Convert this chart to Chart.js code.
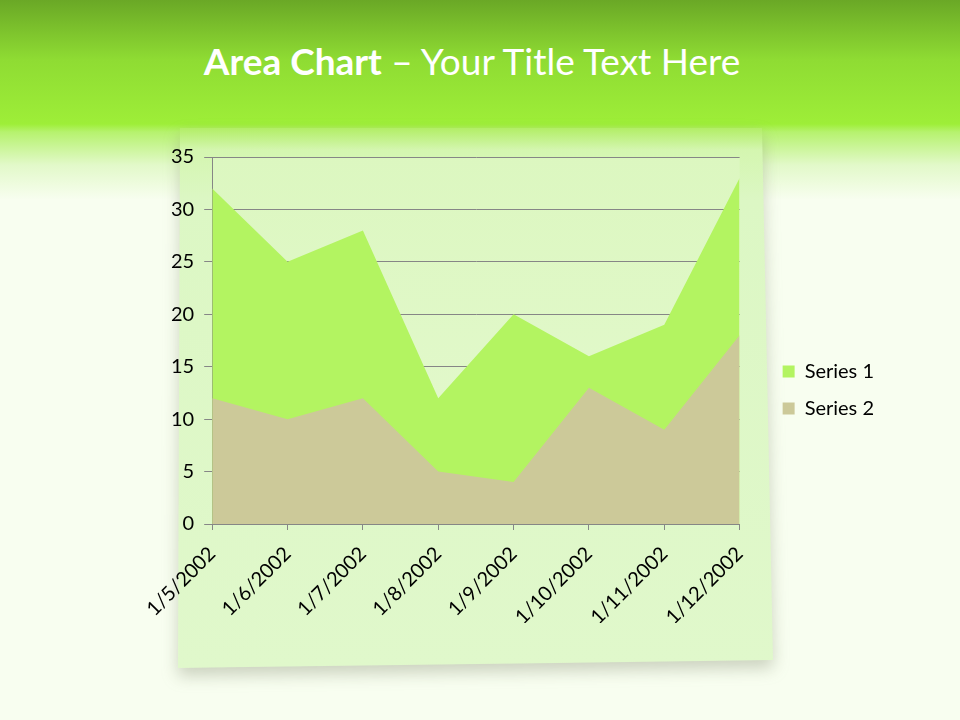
<!DOCTYPE html>
<html>
<head>
<meta charset="utf-8">
<script src="https://cdn.jsdelivr.net/npm/chart.js@4"></script>
<style>
  html, body { margin: 0; padding: 0; }
  body {
    width: 960px; height: 720px; overflow: hidden; position: relative;
    background: linear-gradient(to bottom, #6aa826 0px, #8fdc33 60px, #9eee38 124px, #b6f26e 132px, #e2f9c9 165px, #f8fef0 200px, #f8fef0 720px);
    font-family: Lato, "Open Sans", sans-serif;
  }
  #panelWrap {
    position: absolute; left: 0; top: 0; width: 960px; height: 720px;
    filter: drop-shadow(0px 8px 8px rgba(120, 130, 100, 0.35));
  }
  #panel {
    position: absolute; left: 0; top: 0; width: 960px; height: 720px;
    background: linear-gradient(to bottom, #b2ee66 128px, #d4f6b0 150px, #dcf7c4 200px, #e0f8cb 668px);
    clip-path: polygon(180px 128px, 762px 128px, 773px 660px, 178px 668px);
  }
  #title {
    position: absolute; left: 0; top: 38px; width: 944px; text-align: center;
    color: #ffffff; font-size: 37px; white-space: nowrap;
  }
  #title b { font-weight: 700; }
  #chartBox { position: absolute; left: 0; top: 0; width: 960px; height: 720px; }
</style>
</head>
<body>
<div id="panelWrap"><div id="panel"></div></div>
<div id="title"><b>Area Chart</b> – Your Title Text Here</div>
<div id="chartBox"><canvas id="myChart" width="960" height="720"></canvas></div>
<script>
const categories = ['1/5/2002', '1/6/2002', '1/7/2002', '1/8/2002', '1/9/2002', '1/10/2002', '1/11/2002', '1/12/2002'];
const series1 = [32, 25, 28, 12, 20, 16, 19, 33];
const series2 = [12, 10, 12, 5, 4, 13, 9, 18];
const yTicks = [0, 5, 10, 15, 20, 25, 30, 35];

const FONT = 'Lato, "Open Sans", sans-serif';

// light gradient behind the plot area
const plotBg = {
  id: 'plotBg',
  beforeDraw(chart) {
    const { ctx, chartArea: a } = chart;
    const g = ctx.createLinearGradient(0, a.top, 0, a.bottom);
    g.addColorStop(0, '#dcf7c0');
    g.addColorStop(1, '#e4f9cf');
    ctx.save();
    ctx.fillStyle = g;
    ctx.fillRect(a.left, a.top, a.right - a.left, a.bottom - a.top);
    ctx.restore();
  }
};

const ctx = document.getElementById('myChart').getContext('2d');
const myChart = new Chart(ctx, {
  type: 'line',
  data: {
    labels: categories,
    datasets: [{
      label: 'Series 1',
      data: series1,
      backgroundColor: '#b3f461',
      borderWidth: 0,
      pointRadius: 0,
      fill: 'origin',
      order: 1
    }, {
      label: 'Series 2',
      data: series2,
      backgroundColor: '#ccc999',
      borderWidth: 0,
      pointRadius: 0,
      fill: 'origin',
      order: 0
    }]
  },
  options: {
    responsive: false,
    animation: false,
    layout: {
      padding: { left: 161, right: 76, top: 157, bottom: 97 }
    },
    plugins: {
      title: { display: false },
      tooltip: { enabled: false },
      legend: {
        position: 'right',
        align: 'center',
        labels: {
          boxWidth: 12,
          boxHeight: 12,
          padding: 17,
          color: '#000000',
          font: { family: FONT, size: 20 },
          sort: (a, b) => a.datasetIndex - b.datasetIndex
        }
      }
    },
    scales: {
      x: {
        offset: false,
        afterFit: (s) => { s.height = 99; },
        grid: {
          drawOnChartArea: false,
          drawTicks: true,
          tickLength: 6,
          color: '#868686'
        },
        border: { display: true, color: '#868686', width: 1 },
        ticks: {
          color: '#000000',
          font: { family: FONT, size: 20 },
          minRotation: 45,
          maxRotation: 45,
          padding: 12,
          autoSkip: false
        }
      },
      y: {
        min: 0,
        max: 35,
        afterBuildTicks: (s) => { s.ticks = yTicks.map(v => ({ value: v })); },
        grid: {
          drawOnChartArea: true,
          drawTicks: true,
          tickLength: 8,
          color: '#868686'
        },
        border: { display: true, color: '#868686', width: 1 },
        ticks: {
          color: '#000000',
          font: { family: FONT, size: 20 },
          padding: 10
        }
      },
      gap: {
        position: 'right',
        display: true,
        afterFit: (s) => { s.width = 26; },
        grid: { display: false },
        border: { display: false },
        ticks: { display: false }
      }
    }
  },
  plugins: [plotBg]
});
</script>
</body>
</html>
